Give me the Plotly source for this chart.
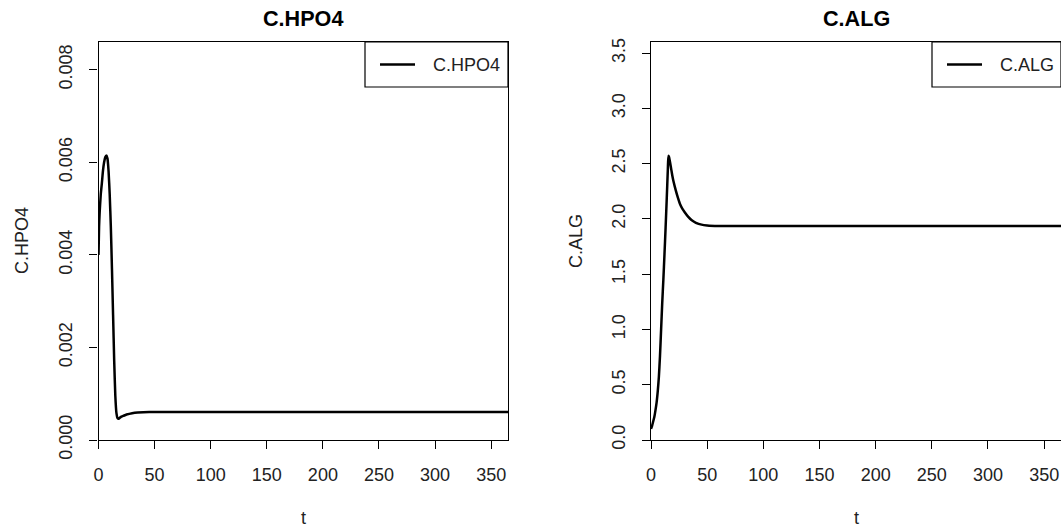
import plotly.graph_objects as go

W, H = 1061, 527

# ---- data ----
t_hpo4 = [0, 0.5, 1, 2, 3, 4, 5, 6, 7, 8, 9, 10, 11, 12, 13, 14, 15, 16, 17, 18, 19, 20,
          22, 25, 30, 35, 40, 50, 75, 100, 150, 200, 250, 300, 365]
c_hpo4 = [0.0040, 0.0046, 0.0049, 0.0053, 0.00555, 0.00582, 0.00600, 0.00611, 0.00615,
          0.00608, 0.00580, 0.00530, 0.00460, 0.00370, 0.00270, 0.00170, 0.00095,
          0.00058, 0.00047, 0.00046, 0.00048, 0.00050, 0.00052, 0.00055, 0.00058,
          0.000595, 0.000600, 0.000605, 0.000607, 0.000607, 0.000607, 0.000607,
          0.000607, 0.000607, 0.000607]

t_alg = [0, 1, 2, 3, 4, 5, 6, 7, 8, 9, 10, 11, 12, 13, 14, 15, 15.5, 16, 17, 18, 19, 20,
         22, 24, 26, 28, 30, 33, 36, 40, 45, 50, 60, 75, 100, 150, 200, 250, 300, 365]
c_alg = [0.10, 0.13, 0.17, 0.21, 0.27, 0.34, 0.44, 0.57, 0.76, 1.00, 1.24, 1.45, 1.68,
         1.92, 2.18, 2.45, 2.57, 2.56, 2.51, 2.45, 2.39, 2.34, 2.26, 2.19, 2.13, 2.09,
         2.06, 2.02, 1.99, 1.965, 1.948, 1.941, 1.936, 1.935, 1.935, 1.935, 1.935, 1.935,
         1.935, 1.935]

x_ticks = [0, 50, 100, 150, 200, 250, 300, 350]
y_ticks_hpo4 = [0.000, 0.002, 0.004, 0.006, 0.008]
y_ticks_alg = [0.0, 0.5, 1.0, 1.5, 2.0, 2.5, 3.0, 3.5]

FONT = "Liberation Sans, Arial, sans-serif"
FS = 18

# plot boxes in pixels
L1, R1 = 98.5, 508
L2, R2 = 651, 1061
TOP, BOT = 42, 440

def px(x):
    return x / W

def py(y):
    return 1 - y / H

fig = go.Figure()
fig.add_trace(go.Scatter(x=t_hpo4, y=c_hpo4, mode="lines",
                         line=dict(color="black", width=2.5, shape="spline", smoothing=0.5),
                         xaxis="x", yaxis="y", showlegend=False, hoverinfo="skip"))
fig.add_trace(go.Scatter(x=t_alg, y=c_alg, mode="lines",
                         line=dict(color="black", width=2.5, shape="spline", smoothing=0.5),
                         xaxis="x2", yaxis="y2", showlegend=False, hoverinfo="skip"))

axis_common = dict(showgrid=False, zeroline=False, showline=True, mirror=True,
                   linecolor="black", linewidth=1.2, ticks="outside", ticklen=8,
                   tickwidth=1.2, tickcolor="black", automargin=False,
                   tickfont=dict(family=FONT, size=FS, color="#222"))

fig.update_layout(
    template="none",
    width=W, height=H, margin=dict(l=0, r=0, t=0, b=0, pad=0),
    paper_bgcolor="white", plot_bgcolor="white",
    xaxis=dict(domain=[px(L1), px(R1)], range=[0, 365], tickvals=x_ticks,
               ticklabelstandoff=10, anchor="y", **axis_common),
    yaxis=dict(domain=[py(BOT), py(TOP)], range=[0, 0.0086], tickvals=y_ticks_hpo4,
               tickformat=".3f", tickangle=-90, ticklabelstandoff=10, anchor="x",
               **axis_common),
    xaxis2=dict(domain=[px(L2), px(R2)], range=[0, 365], tickvals=x_ticks,
                ticklabelstandoff=10, anchor="y2", **axis_common),
    yaxis2=dict(domain=[py(BOT), py(TOP)], range=[0, 3.6], tickvals=y_ticks_alg,
                tickformat=".1f", tickangle=-90, ticklabelstandoff=10, anchor="x2",
                **axis_common),
)

ann = []
shapes = []
panels = [("C.HPO4", L1, R1, 22), ("C.ALG", L2, R2, 576)]
for name, l, r, ylab_x in panels:
    cx = (l + r) / 2
    ann.append(dict(text=f"<b>{name}</b>", x=px(cx), y=py(19), xref="paper", yref="paper",
                    showarrow=False, font=dict(family=FONT, size=21.6, color="black"),
                    xanchor="center", yanchor="middle"))
    ann.append(dict(text="t", x=px(cx), y=py(518), xref="paper", yref="paper",
                    showarrow=False, font=dict(family=FONT, size=FS, color="#222"),
                    xanchor="center", yanchor="middle"))
    ann.append(dict(text=name, x=px(ylab_x), y=py((TOP + BOT) / 2), xref="paper",
                    yref="paper", showarrow=False, textangle=-90,
                    font=dict(family=FONT, size=FS, color="#222"),
                    xanchor="center", yanchor="middle"))

# legends (drawn as boxes in pixel-based paper coordinates)
leg = [("C.HPO4", 365, R1), ("C.ALG", 932, R2)]
for name, lx, rx in leg:
    shapes.append(dict(type="rect", xref="paper", yref="paper",
                       x0=px(lx), x1=px(rx), y0=py(87), y1=py(TOP),
                       line=dict(color="black", width=1.2), fillcolor="white", layer="above"))
    shapes.append(dict(type="line", xref="paper", yref="paper",
                       x0=px(lx + 15), x1=px(lx + 50), y0=py(64.5), y1=py(64.5),
                       line=dict(color="black", width=2.5)))
    ann.append(dict(text=name, x=px(lx + 66), y=py(64.5), xref="paper", yref="paper",
                    showarrow=False, font=dict(family=FONT, size=FS, color="#222"),
                    xanchor="left", yanchor="middle"))

fig.update_layout(annotations=ann, shapes=shapes)
fig.write_html("out.html", config={"displayModeBar": False},
               post_script="document.body.style.margin='0';")
